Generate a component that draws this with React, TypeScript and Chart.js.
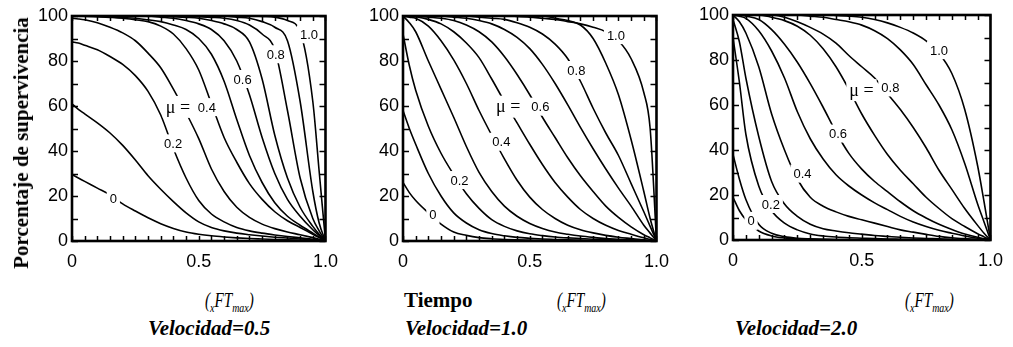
import React, { useEffect, useRef } from 'react';
import { Chart, registerables } from 'chart.js';
Chart.register(...registerables);

// Time axis (fraction of xFTmax) shared by all curves
const TIME = [0, 0.025, 0.05, 0.1, 0.15, 0.2, 0.25, 0.3, 0.35, 0.4, 0.45, 0.5, 0.55, 0.6, 0.65, 0.7, 0.75, 0.8, 0.85, 0.9, 0.95, 0.975, 1];
const MU = ['0', '0.1', '0.2', '0.3', '0.4', '0.5', '0.6', '0.7', '0.8', '0.9', '1.0'];
const Y_TICK_STEP = 20;
const X_TICK_STEP = 0.5;

// Velocidad = 0.5
const V05_MU00 = [29.5, 28, 26.5, 23.5, 20.5, 16.5, 13.3, 10.3, 7.7, 5.6, 4, 3, 2.3, 1.8, 1.4, 1.1, 0.9, 0.7, 0.5, 0.35, 0.2, 0.1, 0];
const V05_MU01 = [61, 58.5, 56.5, 52.5, 48, 42.5, 36, 29, 23, 17.5, 12.5, 8.5, 6, 4.5, 3.5, 2.8, 2.2, 1.7, 1.3, 0.9, 0.5, 0.25, 0];
const V05_MU02 = [88.5, 88, 87, 85, 82, 78.5, 73.5, 66.5, 56, 41, 28, 18, 12, 8.5, 6, 4.5, 3.5, 2.7, 2, 1.4, 0.8, 0.4, 0];
const V05_MU03 = [99, 98.7, 98.3, 97, 95, 92.5, 89, 83.5, 77, 67.5, 57, 45.5, 32, 22, 15, 10.5, 7.5, 5.5, 4, 2.8, 1.5, 0.8, 0];
const V05_MU04 = [100, 100, 99.9, 99.7, 99.4, 99, 98.3, 97.5, 95.5, 92, 85.5, 76, 61, 46, 35, 25.5, 18.5, 13, 9, 6, 3, 1.5, 0];
const V05_MU05 = [100, 100, 100, 99.8, 99.6, 99.3, 99, 98.3, 97.5, 96, 94, 90, 83, 71, 54, 38, 26, 17, 11, 7, 3.5, 1.8, 0];
const V05_MU06 = [100, 100, 100, 100, 100, 100, 100, 100, 99.5, 99, 98, 96.5, 94, 89, 80, 65, 46, 30, 18.5, 11, 5, 2.5, 0];
const V05_MU07 = [100, 100, 100, 100, 100, 100, 100, 100, 100, 99.7, 99.4, 99, 98, 96.5, 94, 88.5, 72, 47, 28, 15, 6.5, 3, 0];
const V05_MU08 = [100, 100, 100, 100, 100, 100, 100, 100, 100, 100, 100, 99.7, 99.4, 99, 98, 96, 92, 85, 58, 28, 10, 4.5, 0];
const V05_MU09 = [100, 100, 100, 100, 100, 100, 100, 100, 100, 100, 100, 100, 100, 100, 99.5, 99, 97.5, 95, 89, 62, 22, 8, 0];
const V05_MU10 = [100, 100, 100, 100, 100, 100, 100, 100, 100, 100, 100, 100, 100, 100, 100, 100, 99.8, 99.5, 98, 93, 62, 31, 0];

// Velocidad = 1.0
const V10_MU00 = [26, 21.5, 18, 12.5, 7.5, 4, 2.5, 1.5, 1, 0.7, 0.5, 0.4, 0.3, 0.25, 0.2, 0.15, 0.1, 0.1, 0.05, 0.05, 0, 0, 0];
const V10_MU01 = [58, 50, 43, 30, 20, 12.5, 8, 5, 3.3, 2.3, 1.6, 1.2, 0.9, 0.7, 0.5, 0.4, 0.3, 0.2, 0.15, 0.1, 0.05, 0, 0];
const V10_MU02 = [92, 78, 67, 51, 39, 29.5, 21, 14.5, 9.5, 6.5, 4.5, 3.2, 2.4, 1.8, 1.4, 1.1, 0.8, 0.6, 0.4, 0.3, 0.1, 0.05, 0];
const V10_MU03 = [100, 97, 93, 80, 67.5, 55, 42, 30.5, 22, 15.5, 11, 7.8, 5.6, 4, 3, 2.2, 1.6, 1.1, 0.8, 0.5, 0.25, 0.1, 0];
const V10_MU04 = [100, 99.5, 99, 95.5, 89, 80.5, 70, 58, 47, 36.5, 27, 19.5, 14, 10, 7, 5, 3.6, 2.5, 1.7, 1.1, 0.5, 0.25, 0];
const V10_MU05 = [100, 100, 99.7, 98.5, 96.5, 93, 88, 81.5, 72, 62, 52.5, 43, 34, 26, 19.5, 14, 10, 7, 4.7, 3, 1.4, 0.7, 0];
const V10_MU06 = [100, 100, 100, 99.5, 99, 98, 96, 93, 88.5, 82, 74, 65, 55, 46, 37, 29, 22, 15.5, 10.5, 6.3, 2.8, 1.4, 0];
const V10_MU07 = [100, 100, 100, 100, 100, 99.5, 99, 98, 96.5, 94, 90.5, 85.5, 78.5, 70, 60.5, 50.5, 41, 32, 23.5, 15.5, 7, 3.5, 0];
const V10_MU08 = [100, 100, 100, 100, 100, 100, 100, 99.5, 99, 98.5, 97, 95, 92, 87.5, 81, 71, 59, 48, 38, 25.5, 13, 6.5, 0];
const V10_MU09 = [100, 100, 100, 100, 100, 100, 100, 100, 100, 100, 100, 100, 100, 99, 98, 96, 90, 79, 65, 45, 22, 10, 0];
const V10_MU10 = [100, 100, 100, 100, 100, 100, 100, 100, 100, 100, 99.8, 99.5, 99, 98.5, 97.5, 96.5, 95, 93, 89, 81, 66, 50, 0];

// Velocidad = 2.0
const V20_MU00 = [19, 13, 9, 4, 1.8, 0.9, 0.5, 0.3, 0.2, 0.1, 0.1, 0.05, 0, 0, 0, 0, 0, 0, 0, 0, 0, 0, 0];
const V20_MU01 = [38, 27, 18, 7, 3, 1.5, 0.8, 0.5, 0.3, 0.2, 0.15, 0.1, 0.05, 0, 0, 0, 0, 0, 0, 0, 0, 0, 0];
const V20_MU02 = [90, 70, 47, 24, 13, 7.5, 4.5, 2.7, 1.8, 1.3, 1, 0.8, 0.6, 0.45, 0.35, 0.25, 0.2, 0.15, 0.1, 0.05, 0, 0, 0];
const V20_MU03 = [98, 88, 72, 46, 26, 16, 10.5, 7, 5, 4, 3.2, 2.6, 2, 1.6, 1.2, 0.9, 0.7, 0.5, 0.3, 0.2, 0.1, 0.05, 0];
const V20_MU04 = [100, 97, 92, 77, 56, 40, 27, 19, 15, 12.5, 10.5, 9, 7.5, 6, 4.5, 3.5, 2.5, 1.6, 1, 0.6, 0.3, 0.1, 0];
const V20_MU05 = [100, 99.5, 98.5, 93, 84, 72, 57, 45, 36, 29, 24, 20, 16.5, 13.5, 10.5, 8, 6, 4.3, 3, 1.8, 0.8, 0.4, 0];
const V20_MU06 = [100, 100, 99.5, 98, 93.5, 87, 79, 69.5, 59, 48, 38.5, 31.5, 26, 21.5, 17, 13, 9.8, 7, 4.7, 2.7, 1.2, 0.6, 0];
const V20_MU07 = [100, 100, 100, 100, 99, 97.5, 95, 91, 85, 77, 67, 56, 46.5, 38, 31, 25, 19, 14, 9.5, 6, 2.8, 1.4, 0];
const V20_MU08 = [100, 100, 100, 100, 100, 99, 97, 94.5, 91.5, 87.5, 82, 77, 72, 65, 58, 50, 41, 31, 22.5, 14, 6.5, 3, 0];
const V20_MU09 = [100, 100, 100, 100, 100, 100, 100, 99.5, 99, 98, 97, 95.5, 93, 89.5, 84.5, 78, 69, 60, 49, 34, 16, 8, 0];
const V20_MU10 = [100, 100, 100, 100, 100, 100, 100, 100, 100, 99.8, 99.5, 99, 98, 96.5, 94.5, 92, 88.5, 83, 74, 58, 33, 17, 0];

const V05_CURVES = [V05_MU00, V05_MU01, V05_MU02, V05_MU03, V05_MU04, V05_MU05, V05_MU06, V05_MU07, V05_MU08, V05_MU09, V05_MU10];
const V10_CURVES = [V10_MU00, V10_MU01, V10_MU02, V10_MU03, V10_MU04, V10_MU05, V10_MU06, V10_MU07, V10_MU08, V10_MU09, V10_MU10];
const V20_CURVES = [V20_MU00, V20_MU01, V20_MU02, V20_MU03, V20_MU04, V20_MU05, V20_MU06, V20_MU07, V20_MU08, V20_MU09, V20_MU10];

// Curve labels (text, time, survival %)
type Lbl = { t: string; x: number; y: number; serif?: boolean };
const V05_LABELS: Lbl[] = [
  { t: '0', x: 0.163, y: 19.1 },
  { t: '0.2', x: 0.399, y: 43.4 },
  { t: 'μ =', x: 0.418, y: 59.6, serif: true },
  { t: '0.4', x: 0.532, y: 59.5 },
  { t: '0.6', x: 0.673, y: 72 },
  { t: '0.8', x: 0.804, y: 83 },
  { t: '1.0', x: 0.935, y: 91.9 },
];
const V10_LABELS: Lbl[] = [
  { t: '0', x: 0.118, y: 11.6 },
  { t: '0.2', x: 0.223, y: 27.1 },
  { t: '0.4', x: 0.388, y: 44.1 },
  { t: 'μ =', x: 0.415, y: 59.7, serif: true },
  { t: '0.6', x: 0.542, y: 59.7 },
  { t: '0.8', x: 0.684, y: 76 },
  { t: '1.0', x: 0.84, y: 91.5 },
];
const V20_LABELS: Lbl[] = [
  { t: '0', x: 0.07, y: 8.5 },
  { t: '0.2', x: 0.147, y: 16 },
  { t: '0.4', x: 0.27, y: 29.5 },
  { t: '0.6', x: 0.408, y: 47.3 },
  { t: 'μ =', x: 0.499, y: 66.6, serif: true },
  { t: '0.8', x: 0.611, y: 67.8 },
  { t: '1.0', x: 0.8, y: 84.4 },
];

type PanelProps = { curves: number[][]; labels: Lbl[]; plotLeft: number; plotRight: number; plotTop: number; plotBottom: number };

const AXIS_W = 50;
const PAD_R = 22;
const CANVAS_H = 280;

function Panel({ curves, labels, plotLeft, plotRight, plotTop, plotBottom }: PanelProps) {
  const ref = useRef<HTMLCanvasElement>(null);
  const width = plotRight - plotLeft + AXIS_W + PAD_R;
  useEffect(() => {
    const overlay = {
      id: 'frameAndLabels',
      afterDatasetsDraw(chart: any) {
        const { ctx, chartArea: a, scales } = chart;
        const xs = scales.x, ys = scales.y;
        ctx.save();
        for (const l of labels) {
          const px = xs.getPixelForValue(l.x);
          const py = ys.getPixelForValue(l.y);
          ctx.font = l.serif ? '18px "Liberation Serif", serif' : '13px "Liberation Sans", Arial, sans-serif';
          const w = ctx.measureText(l.t).width;
          const h = l.serif ? 14 : 10;
          ctx.fillStyle = '#fff';
          ctx.fillRect(px - w / 2 - 3, py - h / 2 - 4, w + 6, h + 8);
          ctx.fillStyle = '#000';
          ctx.textAlign = 'center';
          ctx.textBaseline = 'middle';
          ctx.fillText(l.t, px, py + 1);
        }
        ctx.strokeStyle = '#000';
        ctx.lineWidth = 1.5;
        ctx.beginPath();
        for (let v = 0; v <= 100; v += 10) {
          const py = Math.round(ys.getPixelForValue(v)) + 0.5;
          ctx.moveTo(a.left, py); ctx.lineTo(a.left + 6, py);
          ctx.moveTo(a.right, py); ctx.lineTo(a.right - 6, py);
        }
        for (let i = 0; i <= 20; i++) {
          const px = Math.round(xs.getPixelForValue(i * 0.05)) + 0.5;
          ctx.moveTo(px, a.bottom); ctx.lineTo(px, a.bottom - 5);
          ctx.moveTo(px, a.top); ctx.lineTo(px, a.top + 5);
        }
        ctx.stroke();
        ctx.lineWidth = 2.6;
        ctx.strokeRect(a.left, a.top, a.right - a.left, a.bottom - a.top);
        ctx.restore();
      },
    };
    const chart = new Chart(ref.current as HTMLCanvasElement, {
      type: 'line',
      data: {
        datasets: curves.map((c, i) => ({
          label: 'μ = ' + MU[i],
          data: TIME.map((t, j) => ({ x: t, y: c[j] })),
          borderColor: '#000',
          borderWidth: 1.6,
          pointRadius: 0,
          fill: false,
          cubicInterpolationMode: 'monotone' as const,
        })),
      },
      options: {
        responsive: false,
        animation: false,
        events: [],
        layout: { padding: { left: 0, right: PAD_R, top: plotTop, bottom: 0 } },
        plugins: { legend: { display: false }, tooltip: { enabled: false }, title: { display: false } },
        scales: {
          x: {
            type: 'linear',
            min: 0,
            max: 1,
            grid: { display: false, drawTicks: false },
            border: { display: false },
            ticks: {
              stepSize: X_TICK_STEP,
              padding: 10,
              color: '#000',
              maxRotation: 0,
              autoSkip: false,
              font: { family: '"Liberation Sans", Arial, sans-serif', size: 18 },
              callback: (v: any) => (Number(v) === 0 ? '0' : Number(v).toFixed(1)),
            },
            afterFit: (s: any) => { s.height = CANVAS_H - plotBottom; },
          },
          y: {
            type: 'linear',
            min: 0,
            max: 100,
            grid: { display: false, drawTicks: false },
            border: { display: false },
            ticks: {
              stepSize: Y_TICK_STEP,
              padding: 4,
              color: '#000',
              font: { family: '"Liberation Sans", Arial, sans-serif', size: 18 },
            },
            afterFit: (s: any) => { s.width = AXIS_W; },
          },
        },
      },
      plugins: [overlay],
    });
    return () => chart.destroy();
  }, []);
  return (
    <canvas
      ref={ref}
      width={width}
      height={CANVAS_H}
      style={{ position: 'absolute', left: plotLeft - AXIS_W, top: 0, width, height: CANVAS_H }}
    />
  );
}

function Unit({ left }: { left: number }) {
  const sub = { fontSize: 13, verticalAlign: '-5px' } as React.CSSProperties;
  return (
    <div style={{ position: 'absolute', left, top: 289, fontStyle: 'italic', fontSize: 20, lineHeight: '22px', whiteSpace: 'nowrap', transform: 'scaleX(0.76)', transformOrigin: '0 50%' }}>
      (<span style={sub}>x</span>FT<span style={sub}>max</span>)
    </div>
  );
}

export default function App() {
  const serif = '"Liberation Serif", "Times New Roman", serif';
  const vel: React.CSSProperties = { position: 'absolute', top: 317, fontWeight: 'bold', fontStyle: 'italic', fontSize: 21, lineHeight: '22px', whiteSpace: 'nowrap' };
  return (
    <div style={{ position: 'absolute', left: 0, top: 0, width: 1013, height: 347, background: '#fff', fontFamily: serif, color: '#000', overflow: 'hidden' }}>
      <Panel curves={V05_CURVES} labels={V05_LABELS} plotLeft={72} plotRight={326} plotTop={16} plotBottom={241} />
      <Panel curves={V10_CURVES} labels={V10_LABELS} plotLeft={403} plotRight={657} plotTop={16} plotBottom={241} />
      <Panel curves={V20_CURVES} labels={V20_LABELS} plotLeft={733} plotRight={991} plotTop={15} plotBottom={240} />
      <div style={{ position: 'absolute', left: 21, top: 143, transform: 'translate(-50%, -50%) rotate(-90deg)', whiteSpace: 'nowrap', fontWeight: 'bold', fontSize: 21, lineHeight: '22px' }}>
        Porcentaje de supervivencia
      </div>
      <Unit left={205} />
      <div style={{ position: 'absolute', left: 404, top: 289, fontWeight: 'bold', fontSize: 21, lineHeight: '22px' }}>Tiempo</div>
      <Unit left={557} />
      <Unit left={905} />
      <div style={{ ...vel, left: 148 }}>Velocidad=0.5</div>
      <div style={{ ...vel, left: 405 }}>Velocidad=1.0</div>
      <div style={{ ...vel, left: 735 }}>Velocidad=2.0</div>
    </div>
  );
}
